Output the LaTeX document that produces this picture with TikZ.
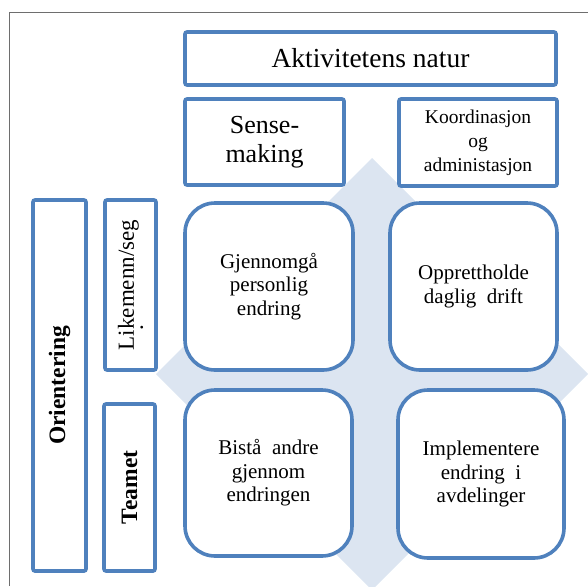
\documentclass[tikz,border=0pt]{standalone}
\usepackage{fontspec}
\setmainfont{Liberation Serif}
\definecolor{edgeblue}{HTML}{4F81BD}
\definecolor{hubfill}{HTML}{DCE5F1}
\definecolor{framegray}{HTML}{6E6E6E}
\begin{document}
\begin{tikzpicture}[x=1pt, y=-1pt,
  box/.style={draw=edgeblue, line width=3.6pt, rounded corners=2pt, fill=white,
    inner sep=0pt, align=center},
  cell/.style={box, rounded corners=30pt, font=\fontsize{21}{23.5}\selectfont},
  titlefont/.style={font=\fontsize{27.5}{30}\selectfont},
  headfont/.style={font=\fontsize{26}{28.5}\selectfont},
  smallfont/.style={font=\fontsize{19.5}{24}\selectfont},
  sidefont/.style={font=\fontsize{23.5}{26}\selectfont\bfseries},
]
\useasboundingbox (0,0) rectangle (588,586);
% light diamond behind the four quadrants
\begin{scope}
  \clip (0,0) rectangle (588,586);
  \fill[hubfill] (372,158) -- (588,374) -- (372,590) -- (156,374) -- cycle;
\end{scope}
% page frame
\draw[framegray, line width=1pt] (9,586) -- (9,13) -- (588,13);

% column headers
\node[box, titlefont, minimum width=371, minimum height=53] (nature) at (370.5,58.5) {Aktivitetens natur};
\node[box, headfont, minimum width=159, minimum height=86] (sense) at (264.5,142) {Sense-\\making};
\node[box, smallfont, minimum width=158, minimum height=87] (coord) at (478,142.5) {Koordinasjon\\og\\administasjon};

% row headers (rotated)
\node[box, sidefont, rotate=90, minimum width=371, minimum height=53] (orient) at (59.5,385.5) {Orientering};
\node[box, rotate=90, font=\fontsize{23}{27}\selectfont, align=left, minimum width=170, minimum height=51] (peers) at (130.5,285) {Likemenn/seg\\[-18pt]\hspace*{20pt}.};
\node[box, sidefont, rotate=90, minimum width=167, minimum height=51] (team) at (129.5,487.5) {Teamet};

% quadrants
\node[cell, minimum width=168, minimum height=167] (q1) at (269,286.5) {Gjennomgå\\personlig\\endring};
\node[cell, minimum width=167, minimum height=167] (q2) at (473.5,286.5) {Opprettholde\\daglig\ \ drift};
\node[cell, minimum width=167, minimum height=166] (q3) at (268.5,473) {Bistå\ \ andre\\gjennom\\endringen};
\node[cell, minimum width=166, minimum height=168] (q4) at (481,474) {Implementere\\endring\ \ i\\avdelinger};
\end{tikzpicture}
\end{document}
